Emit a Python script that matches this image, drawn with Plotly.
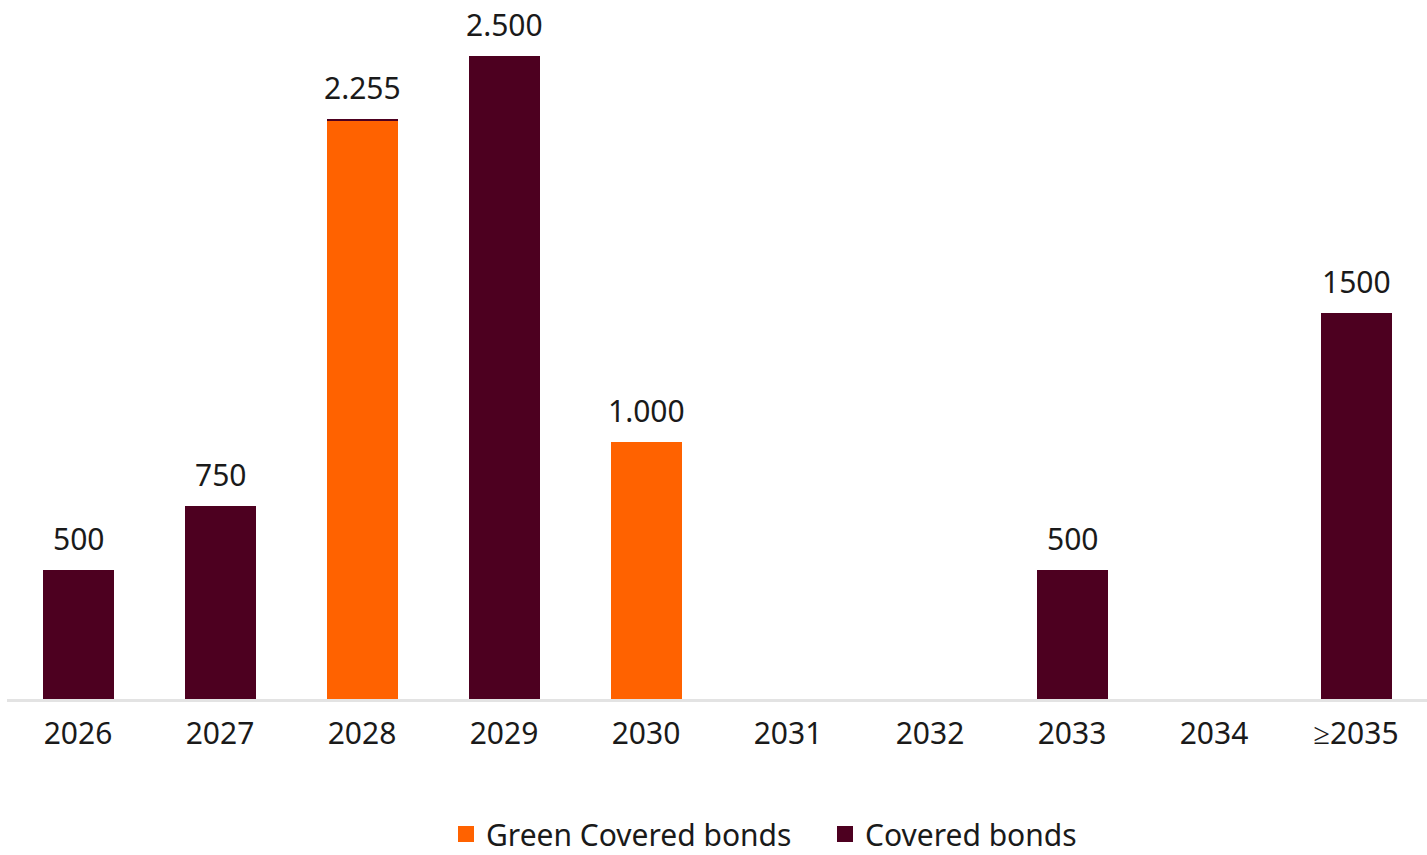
import plotly.graph_objects as go

categories = ["2026", "2027", "2028", "2029", "2030", "2031", "2032", "2033", "2034", "≥2035"]
green_covered = [0, 0, 2250, 0, 1000, 0, 0, 0, 0, 0]
covered = [500, 750, 5, 2500, 0, 0, 0, 500, 0, 1500]
total_labels = ["500", "750", "2.255", "2.500", "1.000", "", "", "500", "", "1500"]

ORANGE = "#FF6200"
DARK = "#4D0020"
FONT = "Noto Sans"
FS = 30

fig = go.Figure()
fig.add_trace(go.Bar(x=categories, y=green_covered, marker_color=ORANGE, showlegend=False,
                     name="Green Covered bonds", marker_line_width=0))
fig.add_trace(go.Bar(x=categories, y=covered, marker_color=DARK, showlegend=False,
                     name="Covered bonds", marker_line_width=0))
# legend entries with larger square swatches
fig.add_trace(go.Scatter(x=[categories[0]], y=[None], mode="markers", name="Green Covered bonds",
                         marker=dict(symbol="square", size=20, color=ORANGE)))
fig.add_trace(go.Scatter(x=[categories[0]], y=[None], mode="markers", name="Covered bonds",
                         marker=dict(symbol="square", size=20, color=DARK)))

totals = [g + c for g, c in zip(green_covered, covered)]
for i, (tot, lab) in enumerate(zip(totals, total_labels)):
    if lab:
        fig.add_annotation(x=i, y=tot, text=lab, showarrow=False, yanchor="bottom",
                           yshift=9, font=dict(family=FONT, size=FS, color="#1a1a1a"))

fig.update_layout(
    width=1427, height=855,
    margin=dict(l=7, r=0, t=5, b=156, autoexpand=False),
    barmode="stack", bargap=0.5,
    plot_bgcolor="white", paper_bgcolor="white",
    font=dict(family=FONT, size=FS, color="#1a1a1a"),
    xaxis=dict(showline=True, linecolor="#e3e3e3", linewidth=3, ticks="outside", ticklen=6,
               tickcolor="rgba(0,0,0,0)", showgrid=False, automargin=False,
               tickfont=dict(size=FS, color="#1a1a1a"), type="category",
               categoryorder="array", categoryarray=categories, range=[-0.5, 9.5],
               autorange=False),
    yaxis=dict(range=[0, 2700], visible=False, showgrid=False, automargin=False),
    legend=dict(orientation="h", x=(446 - 7) / 1420, xanchor="left",
                yref="container", y=(855 - 834) / 855, yanchor="middle",
                font=dict(size=FS, color="#1a1a1a"), itemwidth=30, entrywidth=334,
                traceorder="normal"),
)

fig.write_html("out.html")
